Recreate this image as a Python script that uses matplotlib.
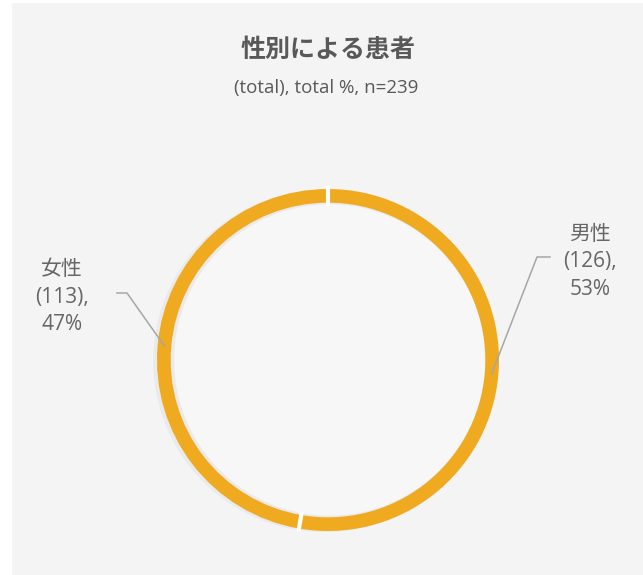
import numpy as np
import matplotlib
matplotlib.use("Agg")
import matplotlib.pyplot as plt
from matplotlib.patches import Rectangle, Circle

plt.rcParams['font.family'] = ['Open Sans', 'Noto Sans CJK JP', 'DejaVu Sans']

# data
labels = ["男性", "女性"]
counts = [126, 113]
title = "性別による患者"
subtitle = "(total), total %, n=239"

ring_color = "#EFAA20"
text_color = "#666666"
panel_color = "#F4F4F4"

total = sum(counts)
pcts = [round(100 * c / total) for c in counts]

fig = plt.figure(figsize=(6.43, 5.75), dpi=100)
fig.patch.set_facecolor("white")

# grey panel behind chart
bg = fig.add_axes([0, 0, 1, 1], zorder=0)
bg.axis("off")
bg.set_xlim(0, 1)
bg.set_ylim(0, 1)
bg.add_patch(Rectangle((12 / 643, 0), 1 - 12 / 643, 1 - 3 / 575,
                       facecolor=panel_color, edgecolor="none"))

# axes centered on ring, 1 data unit = 171 px
unit = 171
cx, cy, half = 328, 575 - 360, 180
ax = fig.add_axes([(cx - half) / 643, (cy - half) / 575, 2 * half / 643, 2 * half / 575],
                  zorder=2)
ax.set_facecolor("none")

width = 0.08
# soft shadow on the left of the ring
ax.add_patch(Circle((-0.022, -0.006), 1.0, facecolor="#EAEAEA", edgecolor="none", zorder=0))
ax.add_patch(Circle((0.01, 0), 1 - width - 0.01, facecolor="#F7F7F7", edgecolor="none", zorder=1))

wedges, _ = ax.pie(counts, radius=1.0, colors=[ring_color, ring_color], startangle=90,
                   counterclock=False,
                   wedgeprops=dict(width=width, edgecolor="none", zorder=2))
# white gaps between slices
for w in wedges:
    a = np.deg2rad(w.theta2)
    ax.plot([0.9 * np.cos(a), 1.02 * np.cos(a)], [0.9 * np.sin(a), 1.02 * np.sin(a)],
            color="white", lw=3, solid_capstyle="butt", zorder=3)

L = half / unit
ax.set_xlim(-L, L)
ax.set_ylim(-L, L)
ax.set_aspect("equal")
ax.axis("off")

# label layout (pixels relative to centre): text centre, elbow points
text_px = [(262, 98), (-266, 63)]
elbow_px = [[(222, 103), (209, 103)], [(-211, 67), (-201, 67)]]

for w, lab, c, p, tp, el in zip(wedges, labels, counts, pcts, text_px, elbow_px):
    mid = np.deg2rad((w.theta1 + w.theta2) / 2)
    r = 1 - width / 2
    px, py = r * np.cos(mid), r * np.sin(mid)
    xs = [el[0][0] / unit, el[1][0] / unit, px]
    ys = [el[0][1] / unit, el[1][1] / unit, py]
    ax.plot(xs, ys, color="#A6A6A6", lw=1.1, clip_on=False, zorder=5)
    ax.text(tp[0] / unit, tp[1] / unit, f"{lab}\n({c}),\n{p}%", ha="center", va="center",
            fontsize=15, color=text_color, linespacing=1.38, clip_on=False)

fig.text(328 / 643, 1 - 50 / 575, title, ha="center", va="center",
         fontsize=18, fontweight="bold", color="#595959",
         family=['Noto Sans CJK JP', 'DejaVu Sans'])
fig.text(326 / 643, 1 - 88 / 575, subtitle, ha="center", va="center",
         fontsize=13.5, color="#595959")

fig.savefig("out.png", dpi=100, facecolor=fig.get_facecolor())
